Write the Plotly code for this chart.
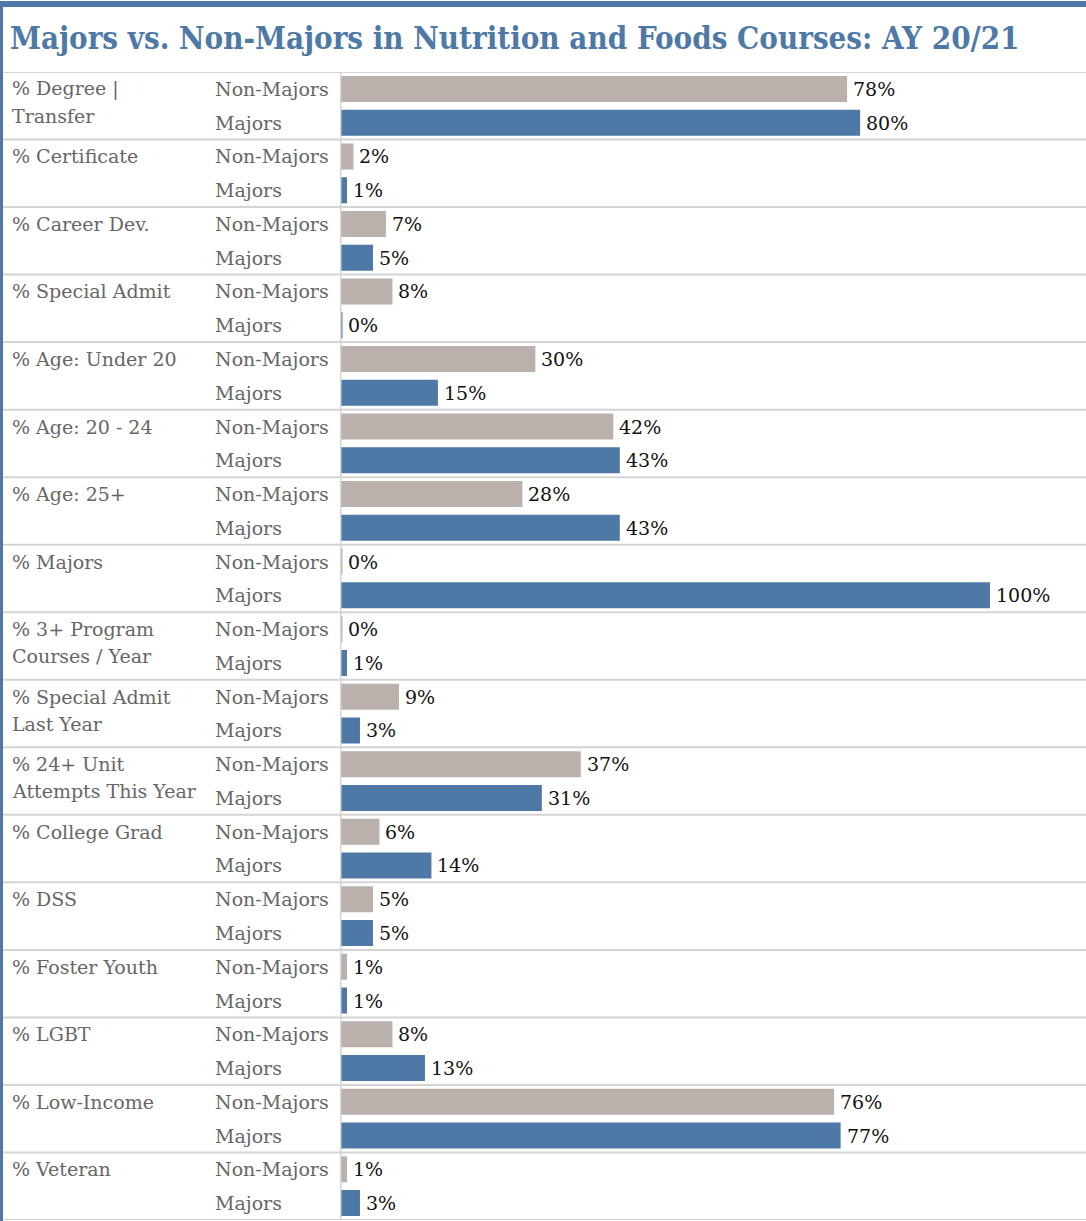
import plotly.graph_objects as go

# ---------------- data ----------------
category_lines = [
    ["% Degree |", "Transfer"],
    ["% Certificate"],
    ["% Career Dev."],
    ["% Special Admit"],
    ["% Age: Under 20"],
    ["% Age: 20 - 24"],
    ["% Age: 25+"],
    ["% Majors"],
    ["% 3+ Program", "Courses / Year"],
    ["% Special Admit", "Last Year"],
    ["% 24+ Unit", "Attempts This Year"],
    ["% College Grad"],
    ["% DSS"],
    ["% Foster Youth"],
    ["% LGBT"],
    ["% Low-Income"],
    ["% Veteran"],
]
groups = ["Non-Majors", "Majors"]
non_majors = [78, 2, 7, 8, 30, 42, 28, 0.2, 0.2, 9, 37, 6, 5, 1, 8, 76, 1]
majors = [80, 1, 5, 0.2, 15, 43, 43, 100, 1, 3, 31, 14, 5, 1, 13, 77, 3]
title_text = "Majors vs. Non-Majors in Nutrition and Foods Courses: AY 20/21"

# ---------------- style ----------------
W, H = 1086, 1221
TOP, BOT = 72, 1
PLOT_H = H - TOP - BOT
BLUE = "#4E79A7"
GRAY = "#BAB0AC"
LINE = "#D4D4D4"
LABEL = "#666666"
FONT = "DejaVu Serif"
X0_PX = 340.5
X_SCALE = 6.495  # px per percent


def py(px):
    return (H - BOT - px) / PLOT_H


n = len(category_lines)
y_nm = [2 * i + 0.5 for i in range(n)]
y_m = [2 * i + 1.5 for i in range(n)]

fig = go.Figure()
fig.add_trace(go.Bar(x=non_majors, y=y_nm, orientation="h", width=0.77,
                     marker=dict(color=GRAY, line=dict(width=0)), name=groups[0],
                     hoverinfo="skip"))
fig.add_trace(go.Bar(x=majors, y=y_m, orientation="h", width=0.77,
                     marker=dict(color=BLUE, line=dict(width=0)), name=groups[1],
                     hoverinfo="skip"))

ann = []
# title
ann.append(dict(text="<b>" + title_text + "</b>", xref="paper", yref="paper",
                x=8 / W, y=py(38), xanchor="left", yanchor="middle", showarrow=False,
                font=dict(family="DejaVu Serif Condensed", size=31, color=BLUE)))
for i, lines in enumerate(category_lines):
    for j, ln in enumerate(lines):
        ann.append(dict(text=ln, xref="paper", yref="y", x=10 / W, y=2 * i + 0.5 + 0.8 * j,
                        xanchor="left", yanchor="middle", showarrow=False,
                        font=dict(family=FONT, size=19, color=LABEL)))
    for k, g in enumerate(groups):
        ann.append(dict(text=g, xref="paper", yref="y", x=213 / W, y=2 * i + 0.5 + k,
                        xanchor="left", yanchor="middle", showarrow=False,
                        font=dict(family=FONT, size=19, color=LABEL)))
for vals, ys in ((non_majors, y_nm), (majors, y_m)):
    for v, yy in zip(vals, ys):
        ann.append(dict(text=f"{v:.0f}%", xref="x", yref="y", x=v, y=yy,
                        xanchor="left", yanchor="middle", xshift=4, showarrow=False,
                        font=dict(family=FONT, size=19, color="#111111")))

shapes = []
# horizontal separators
for i in range(n + 1):
    shapes.append(dict(type="line", xref="paper", yref="y", x0=0, x1=1, y0=2 * i, y1=2 * i,
                       line=dict(color=LINE, width=2), layer="above"))
# vertical divider
shapes.append(dict(type="line", xref="paper", yref="y", x0=340.8 / W, x1=340.8 / W, y0=0, y1=2 * n,
                   line=dict(color=LINE, width=1.5), layer="above"))
# top blue bar
shapes.append(dict(type="rect", xref="paper", yref="paper", x0=0, x1=1, y0=py(7), y1=py(1),
                   fillcolor=BLUE, line=dict(width=0), layer="above"))
# left blue border
shapes.append(dict(type="rect", xref="paper", yref="paper", x0=0, x1=3 / W, y0=py(H), y1=py(1),
                   fillcolor=BLUE, line=dict(width=0), layer="above"))

fig.update_layout(
    width=W, height=H,
    margin=dict(l=0, r=0, t=TOP, b=BOT),
    paper_bgcolor="white", plot_bgcolor="white",
    showlegend=False, barmode="overlay",
    xaxis=dict(domain=[X0_PX / W, 1], range=[0, (W - X0_PX) / X_SCALE], showgrid=False,
               zeroline=False, showticklabels=False, ticks="", fixedrange=True),
    yaxis=dict(range=[2 * n, 0], showgrid=False, zeroline=False, showticklabels=False,
               ticks="", fixedrange=True),
    annotations=ann, shapes=shapes,
)
fig.write_html("out.html", config={"displayModeBar": False})
